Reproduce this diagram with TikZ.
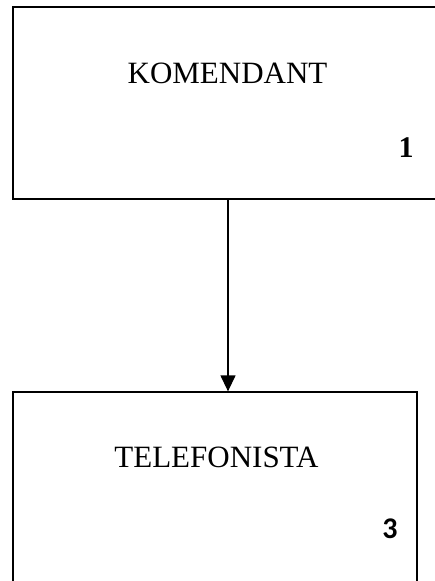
\documentclass[tikz,border=0pt]{standalone}
\usepackage{fontspec}
\setmainfont{Liberation Serif}
\newfontfamily\numfont{Carlito}
\usetikzlibrary{arrows.meta}

\begin{document}
\begin{tikzpicture}[x=1pt, y=-1pt,
        box/.style={draw, shape=rectangle, line width=1.3pt, inner sep=0pt},
        title/.style={inner sep=0pt, font=\fontsize{31}{31}\selectfont},
        num/.style={inner sep=0pt}]
        \useasboundingbox (0,0) rectangle (434,581);

        \node[box, minimum width=430pt, minimum height=192pt] (B1) at (228,103) {};
        \node[title] (T1) at (227.5,73.5) {KOMENDANT};
        \node[num, font=\bfseries\fontsize{30}{30}\selectfont] (N1) at (406,148) {1};

        \node[box, minimum width=404pt, minimum height=218pt] (B2) at (215,501) {};
        \node[title] (T2) at (216.5,457.5) {TELEFONISTA};
        \node[num, font=\numfont\bfseries\fontsize{30}{30}\selectfont] (N2) at (390,529) {3};

        \draw[line width=1.3pt, -{Triangle[width=15pt, length=16pt]}] (B1.south) -- (B1.south |- B2.north);
    \end{tikzpicture}
\end{document}
